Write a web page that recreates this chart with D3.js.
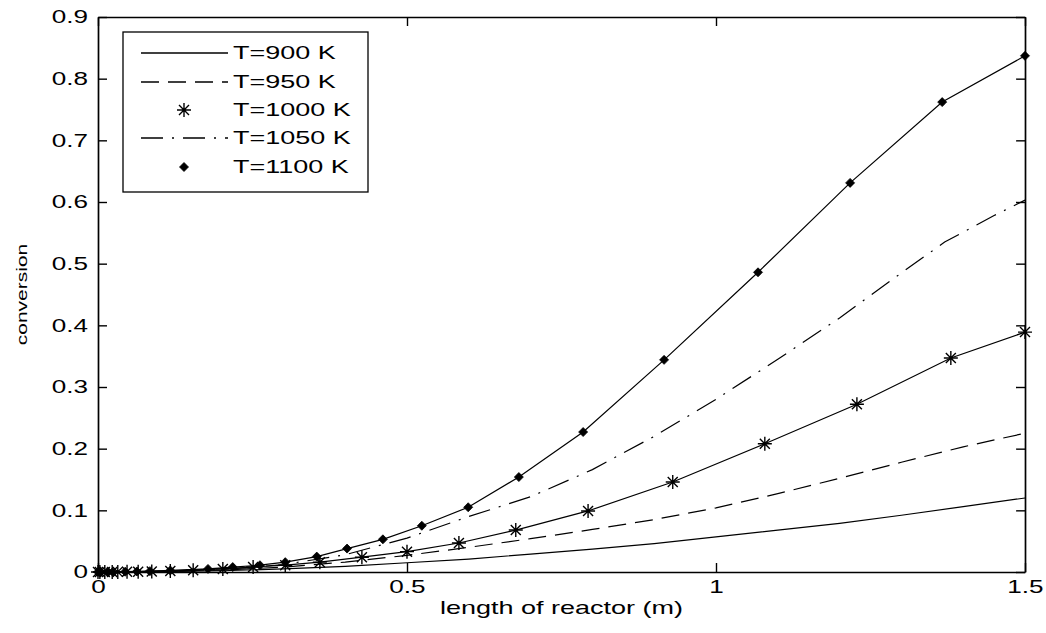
<!DOCTYPE html>
<html><head><meta charset="utf-8">
<script src="https://cdn.jsdelivr.net/npm/d3@7"></script>
<style>
body{margin:0;background:#fff}
text{font-family:"Liberation Sans",Arial,sans-serif;fill:#000}
</style>
</head><body>
<svg id="c" width="1046" height="633"></svg>
<script>
// ---- data ----
const xTicks = [0, 0.5, 1, 1.5];
const xTickLabels = ["0", "0.5", "1", "1.5"];
const yTicks = [0, 0.1, 0.2, 0.3, 0.4, 0.5, 0.6, 0.7, 0.8, 0.9];
const yTickLabels = ["0", "0.1", "0.2", "0.3", "0.4", "0.5", "0.6", "0.7", "0.8", "0.9"];
const seriesNames = ["T=900 K", "T=950 K", "T=1000 K", "T=1050 K", "T=1100 K"];
const xLabel = "length of reactor (m)";
const yLabel = "conversion";

const x900 = [0, 0.1, 0.2, 0.3, 0.4, 0.5, 0.6, 0.7, 0.8, 0.9, 1.0, 1.1, 1.2, 1.3, 1.4, 1.5];
const y900 = [0, 0.0005, 0.002, 0.005, 0.009, 0.015, 0.021, 0.029, 0.037, 0.046, 0.057, 0.068, 0.079, 0.092, 0.106, 0.120];

const x950 = [0, 0.1, 0.2, 0.3, 0.4, 0.5, 0.6, 0.7, 0.8, 0.9, 1.0, 1.1, 1.2, 1.3, 1.4, 1.5];
const y950 = [0, 0.0008, 0.003, 0.008, 0.016, 0.027, 0.040, 0.054, 0.069, 0.085, 0.104, 0.127, 0.152, 0.178, 0.203, 0.225];

const x1000 = [0, 0.003, 0.011, 0.023, 0.032, 0.047, 0.065, 0.087, 0.117, 0.154, 0.202, 0.251, 0.303, 0.359, 0.427, 0.5, 0.584, 0.676, 0.793, 0.930, 1.079, 1.228, 1.380, 1.5];
const y1000 = [0, 0, 0.00005, 0.0001, 0.0002, 0.0004, 0.0006, 0.001, 0.0018, 0.003, 0.005, 0.008, 0.011, 0.016, 0.024, 0.033, 0.047, 0.068, 0.099, 0.146, 0.208, 0.272, 0.347, 0.389];

const x1050 = [0, 0.1, 0.2, 0.3, 0.4, 0.5, 0.6, 0.7, 0.8, 0.9, 1.0, 1.1, 1.2, 1.3, 1.37, 1.45, 1.5];
const y1050 = [0, 0.001, 0.004, 0.012, 0.028, 0.055, 0.090, 0.122, 0.166, 0.220, 0.280, 0.345, 0.412, 0.485, 0.535, 0.578, 0.603];

const x1100 = [0, 0.003, 0.015, 0.024, 0.044, 0.063, 0.084, 0.117, 0.178, 0.218, 0.262, 0.303, 0.354, 0.403, 0.461, 0.524, 0.599, 0.681, 0.785, 0.916, 1.068, 1.217, 1.366, 1.5];
const y1100 = [0, 0, 0.0001, 0.0002, 0.0005, 0.0009, 0.0014, 0.0025, 0.005, 0.008, 0.011, 0.016, 0.025, 0.038, 0.053, 0.075, 0.105, 0.154, 0.227, 0.344, 0.486, 0.631, 0.762, 0.837];

// ---- layout ----
const L = 98, R = 1025, T = 17, B = 572;
const SX = 1.45; // horizontal glyph stretch
const svg = d3.select("#c");
const x = d3.scaleLinear().domain([0, 1.5]).range([L, R]);
const y = d3.scaleLinear().domain([0, 0.9]).range([B, T]);

const series = [
  {name: seriesNames[0], xs: x900, ys: y900, dash: null, marker: null},
  {name: seriesNames[1], xs: x950, ys: y950, dash: "18,9", marker: null},
  {name: seriesNames[2], xs: x1000, ys: y1000, dash: null, marker: "star"},
  {name: seriesNames[3], xs: x1050, ys: y1050, dash: "22,9,2,9", marker: null},
  {name: seriesNames[4], xs: x1100, ys: y1100, dash: null, marker: "dot"}
];

const line = d3.line().x(d => x(d[0])).y(d => y(d[1]));

function drawMarker(g, type, cx, cy) {
  if (type === "star") {
    const a = 7, b = 5;
    g.append("path")
      .attr("d", `M${cx - a},${cy}L${cx + a},${cy}M${cx},${cy - a}L${cx},${cy + a}M${cx - b},${cy - b}L${cx + b},${cy + b}M${cx - b},${cy + b}L${cx + b},${cy - b}`)
      .attr("stroke", "#000").attr("stroke-width", 1.4).attr("fill", "none");
  } else if (type === "dot") {
    g.append("path")
      .attr("d", `M${cx},${cy - 4.5}L${cx + 3},${cy - 1.5}L${cx + 4.5},${cy}L${cx + 3},${cy + 1.5}L${cx},${cy + 4.5}L${cx - 3},${cy + 1.5}L${cx - 4.5},${cy}L${cx - 3},${cy - 1.5}Z`)
      .attr("fill", "#000").attr("stroke", "#000").attr("stroke-width", 0.8);
  }
}

const plot = svg.append("g");
series.forEach(s => {
  const pts = s.xs.map((v, i) => [v, s.ys[i]]);
  plot.append("path").datum(pts)
    .attr("d", line)
    .attr("fill", "none").attr("stroke", "#000").attr("stroke-width", 1.2)
    .attr("stroke-dasharray", s.dash);
  if (s.marker) {
    const mg = plot.append("g");
    pts.forEach(p => drawMarker(mg, s.marker, x(p[0]), y(p[1])));
  }
});

// ---- axes ----
function styleAxis(g) {
  g.selectAll("path.domain").attr("stroke", "#000").attr("stroke-width", 1.7);
  g.selectAll(".tick line").attr("stroke", "#000").attr("stroke-width", 1.4);
}
const gx = svg.append("g").attr("transform", `translate(0,${B})`)
  .call(d3.axisBottom(x).tickValues(xTicks).tickFormat((d, i) => xTickLabels[i]).tickSize(-9).tickSizeOuter(0).tickPadding(8));
gx.selectAll("text").attr("font-size", 18).attr("font-family", null).attr("fill", "#222").attr("transform", `scale(${SX},1)`);
styleAxis(gx);

const gy = svg.append("g").attr("transform", `translate(${L},0)`)
  .call(d3.axisLeft(y).tickValues(yTicks).tickFormat((d, i) => yTickLabels[i]).tickSize(-9).tickSizeOuter(0).tickPadding(10));
gy.selectAll("text").attr("font-size", 18).attr("font-family", null).attr("fill", "#222")
  .attr("x", -10 / SX).attr("transform", `scale(${SX},1)`);
styleAxis(gy);

const gt = svg.append("g").attr("transform", `translate(0,${T})`)
  .call(d3.axisTop(x).tickValues(xTicks).tickFormat("").tickSize(-9).tickSizeOuter(0));
styleAxis(gt);
const gr = svg.append("g").attr("transform", `translate(${R},0)`)
  .call(d3.axisRight(y).tickValues(yTicks).tickFormat("").tickSize(-9).tickSizeOuter(0));
styleAxis(gr);

// axis labels
svg.append("text")
  .attr("transform", `translate(${(L + R) / 2},614) scale(1.5,1)`)
  .attr("text-anchor", "middle").attr("font-size", 18).attr("fill", "#222").text(xLabel);
svg.append("text")
  .attr("transform", `translate(27,${(T + B) / 2}) rotate(-90) scale(1.4,1)`)
  .attr("text-anchor", "middle").attr("font-size", 15).attr("fill", "#222").text(yLabel);

// ---- legend ----
const lg = svg.append("g");
lg.append("rect").attr("x", 123).attr("y", 32).attr("width", 245).attr("height", 160)
  .attr("fill", "#fff").attr("stroke", "#000").attr("stroke-width", 1.3);
const legY = [53, 82, 110, 138, 167];
series.forEach((s, i) => {
  const yy = legY[i];
  if (s.marker) {
    drawMarker(lg, s.marker, 184, yy);
  } else {
    lg.append("line").attr("x1", 141).attr("x2", 228).attr("y1", yy).attr("y2", yy)
      .attr("stroke", "#000").attr("stroke-width", 1.3).attr("stroke-dasharray", s.dash);
  }
  lg.append("text")
    .attr("transform", `translate(233,${yy}) scale(1.5,1)`)
    .attr("dy", "0.36em").attr("font-size", 18).attr("fill", "#222").text(s.name);
});
</script>
</body></html>
